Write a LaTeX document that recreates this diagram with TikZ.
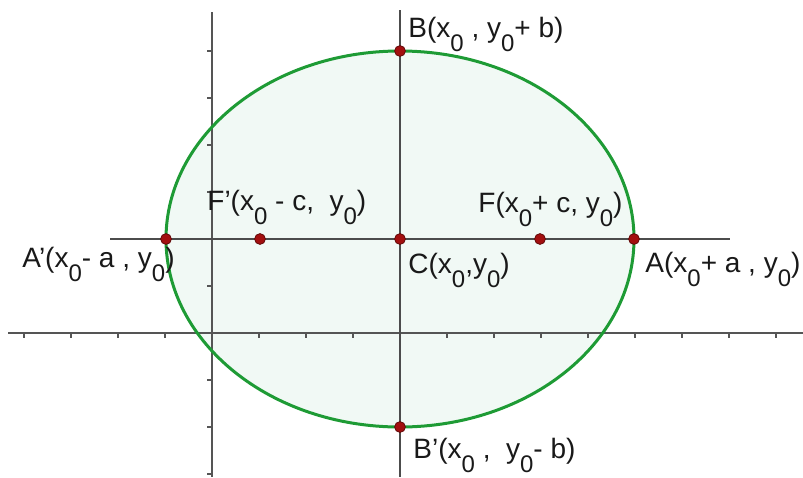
\documentclass[tikz,border=0pt]{standalone}
\usepackage{fontspec}
\setmainfont{Liberation Sans}
\usetikzlibrary{calc}
\definecolor{ellgreen}{HTML}{1E9B35}
\definecolor{ellfill}{HTML}{F1F9F5}
\definecolor{ptred}{HTML}{A30F0F}
\definecolor{axgray}{HTML}{555555}
\newcommand{\zsub}{\raisebox{-0.5em}{\fontsize{12}{13}\selectfont 0}}

\begin{document}
\begin{tikzpicture}[x=0.5pt,y=-0.5pt,
   pt/.style={circle,fill=ptred,draw=ptred!60!black,line width=0.4pt,inner sep=0pt,minimum size=5.4pt},
   lbl/.style={anchor=base west,inner sep=0pt,text=black!90,font=\fontsize{14}{16}\selectfont},
   axis/.style={axgray,line width=1pt},
   guide/.style={black!70,line width=1pt}]
   \useasboundingbox (0,0) rectangle (803,477);
   % ellipse centred at (x0,y0)
   \coordinate (C0) at (400,239);
   \fill[ellfill] (C0) ellipse [x radius=234, y radius=188];
   % coordinate axes
   \coordinate (xl) at (8,333);   \coordinate (xr) at (803,333);
   \coordinate (yt) at (212,12);  \coordinate (yb) at (212,477);
   \draw[axis] (xl) -- (xr);
   \draw[axis] (yt) -- (yb);
   \foreach \k in {-4,...,-1,1,2,...,12}
      \draw[axgray,line width=0.6pt] (212+47*\k,333) -- +(0,5);
   \foreach \k in {-3,...,-1,1,2,...,6}
      \draw[axgray,line width=0.6pt] (212,333-47*\k) -- +(-5,0);
   \draw[ellgreen,line width=1.5pt] (C0) ellipse [x radius=234, y radius=188];
   % lines through the centre
   \coordinate (hl) at (110,239); \coordinate (hr) at (730,239);
   \coordinate (vt) at (400,10);  \coordinate (vb) at (400,477);
   \draw[guide] (hl) -- (hr);
   \draw[guide] (vt) -- (vb);
   % points
   \node[pt] (C)  at (C0) {};
   \node[pt] (A)  at (634,239) {};
   \node[pt] (Ap) at (166,239) {};
   \node[pt] (F)  at (540,239) {};
   \node[pt] (Fp) at (260,239) {};
   \node[pt] (B)  at (400,51) {};
   \node[pt] (Bp) at (400,427) {};
   % labels
   \node[lbl] (labB)  at (408,37)  {B(x\zsub\ , y\zsub+ b)};
   \node[lbl] (labFp) at (207,210) {F'(x\zsub\ - c,\ \ y\zsub)};
   \node[lbl] (labF)  at (478,212) {F(x\zsub+ c, y\zsub)};
   \node[lbl] (labAp) at (22,267)  {A'(x\zsub- a , y\zsub)};
   \node[lbl] (labC)  at (408,273) {C(x\zsub,y\zsub)};
   \node[lbl] (labA)  at (645,272) {A(x\zsub+ a , y\zsub)};
   \node[lbl] (labBp) at (413,458) {B'(x\zsub\ ,\ \ y\zsub- b)};
\end{tikzpicture}
\end{document}
